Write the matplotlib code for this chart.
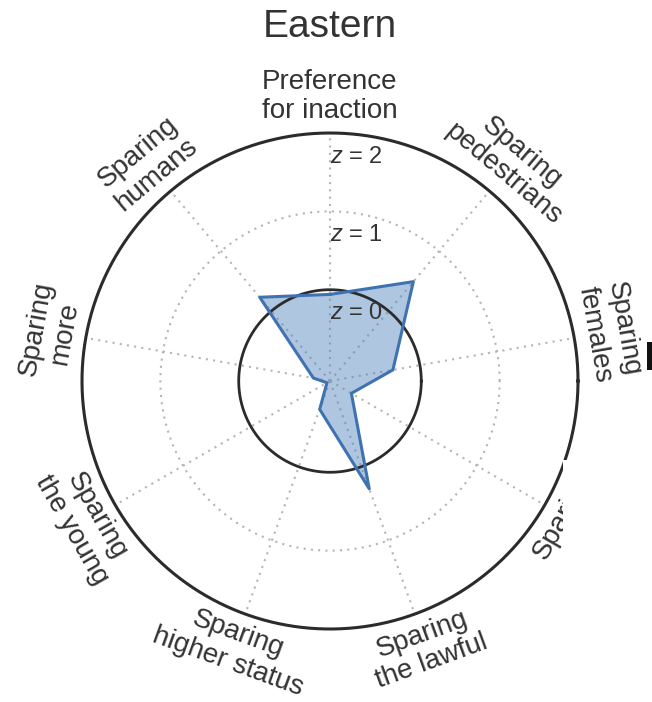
import numpy as np
import matplotlib
matplotlib.use("Agg")
import matplotlib.pyplot as plt
from matplotlib.patches import Rectangle

plt.rcParams['font.family'] = ['Liberation Sans', 'DejaVu Sans']
plt.rcParams['mathtext.fontset'] = 'custom'
plt.rcParams['mathtext.rm'] = 'Liberation Sans'
plt.rcParams['mathtext.it'] = 'Liberation Sans:italic'

title = "Eastern"
categories = ["Preference\nfor inaction", "Sparing\npedestrians", "Sparing\nfemales",
              "Sparing\nfit", "Sparing\nthe lawful", "Sparing\nhigher status",
              "Sparing\nthe young", "Sparing\nmore", "Sparing\nhumans"]
angles_deg = [90, 50, 10, -30, -70, -110, -150, 170, 130]
values = [-0.06, 0.49, -0.35, -0.85, 0.30, -0.78, -1.12, -0.95, 0.23]
ring_labels = ["0", "1", "2"]
ring_values = [0, 1, 2]

rmin, rmax = -1.165, 2.0
text_col = "#333333"

fig = plt.figure(figsize=(6.52, 7.02), dpi=100)
W, H = 652, 702
cx, cy, R = 330, 381, 248
ax = fig.add_axes([(cx - R) / W, (H - cy - R) / H, 2 * R / W, 2 * R / H], projection='polar')
ax.set_ylim(rmin, rmax)
ax.set_xticks([])
ax.set_yticks([])
ax.grid(False)
ax.spines['polar'].set_visible(False)

th = np.linspace(0, 2 * np.pi, 400)
# dotted radial lines
for a in angles_deg:
    t = np.deg2rad(a)
    ax.plot([t, t], [rmin, rmax], color="#b5b5b5", lw=1.5, ls=(0, (1, 2.5)), zorder=1)
# dotted z=1 ring
ax.plot(th, np.full_like(th, 1.0), color="#b5b5b5", lw=1.5, ls=(0, (1, 2.5)), zorder=1)

# data polygon
t = np.deg2rad(angles_deg + [angles_deg[0]])
v = values + [values[0]]
ax.fill(t, v, facecolor="#4f81bd", alpha=0.45, zorder=2, lw=0)
ax.plot(t, v, color="#3f72b0", lw=2.2, zorder=4)

# solid rings
ax.plot(th, np.full_like(th, 0.0), color="#2b2b2b", lw=2.0, zorder=3)
ax.plot(th, np.full_like(th, 2.0), color="#2b2b2b", lw=2.2, zorder=3, clip_on=False)

for n, rv in zip(ring_labels, ring_values):
    ax.text(np.pi / 2, rv - 0.3, r"$z$ = " + n, ha='left', va='center', fontsize=17,
            color=text_col, zorder=5)

# axis labels
rl = 2.46
for lab, a in zip(categories, angles_deg):
    rot = a - 90 if np.sin(np.deg2rad(a)) >= 0 else a + 90
    ax.text(np.deg2rad(a), rl, lab, rotation=rot, rotation_mode='anchor',
            ha='center', va='center', multialignment='center', fontsize=20,
            color=text_col, clip_on=False, linespacing=1.15)

fig.text(cx / W, 1 - 27 / H, title, ha='center', va='center', fontsize=28, color=text_col)

# overlay artefacts present in the reference image
fig.patches.append(Rectangle((563 / W, 1 - 548 / H), (W - 563) / W, 88 / H,
                             transform=fig.transFigure, facecolor='white', edgecolor='none', zorder=10))
fig.patches.append(Rectangle((647 / W, 1 - 370 / H), 6 / W, 28 / H,
                             transform=fig.transFigure, facecolor='#111111', edgecolor='none', zorder=10))

fig.savefig("out.png", dpi=100)
